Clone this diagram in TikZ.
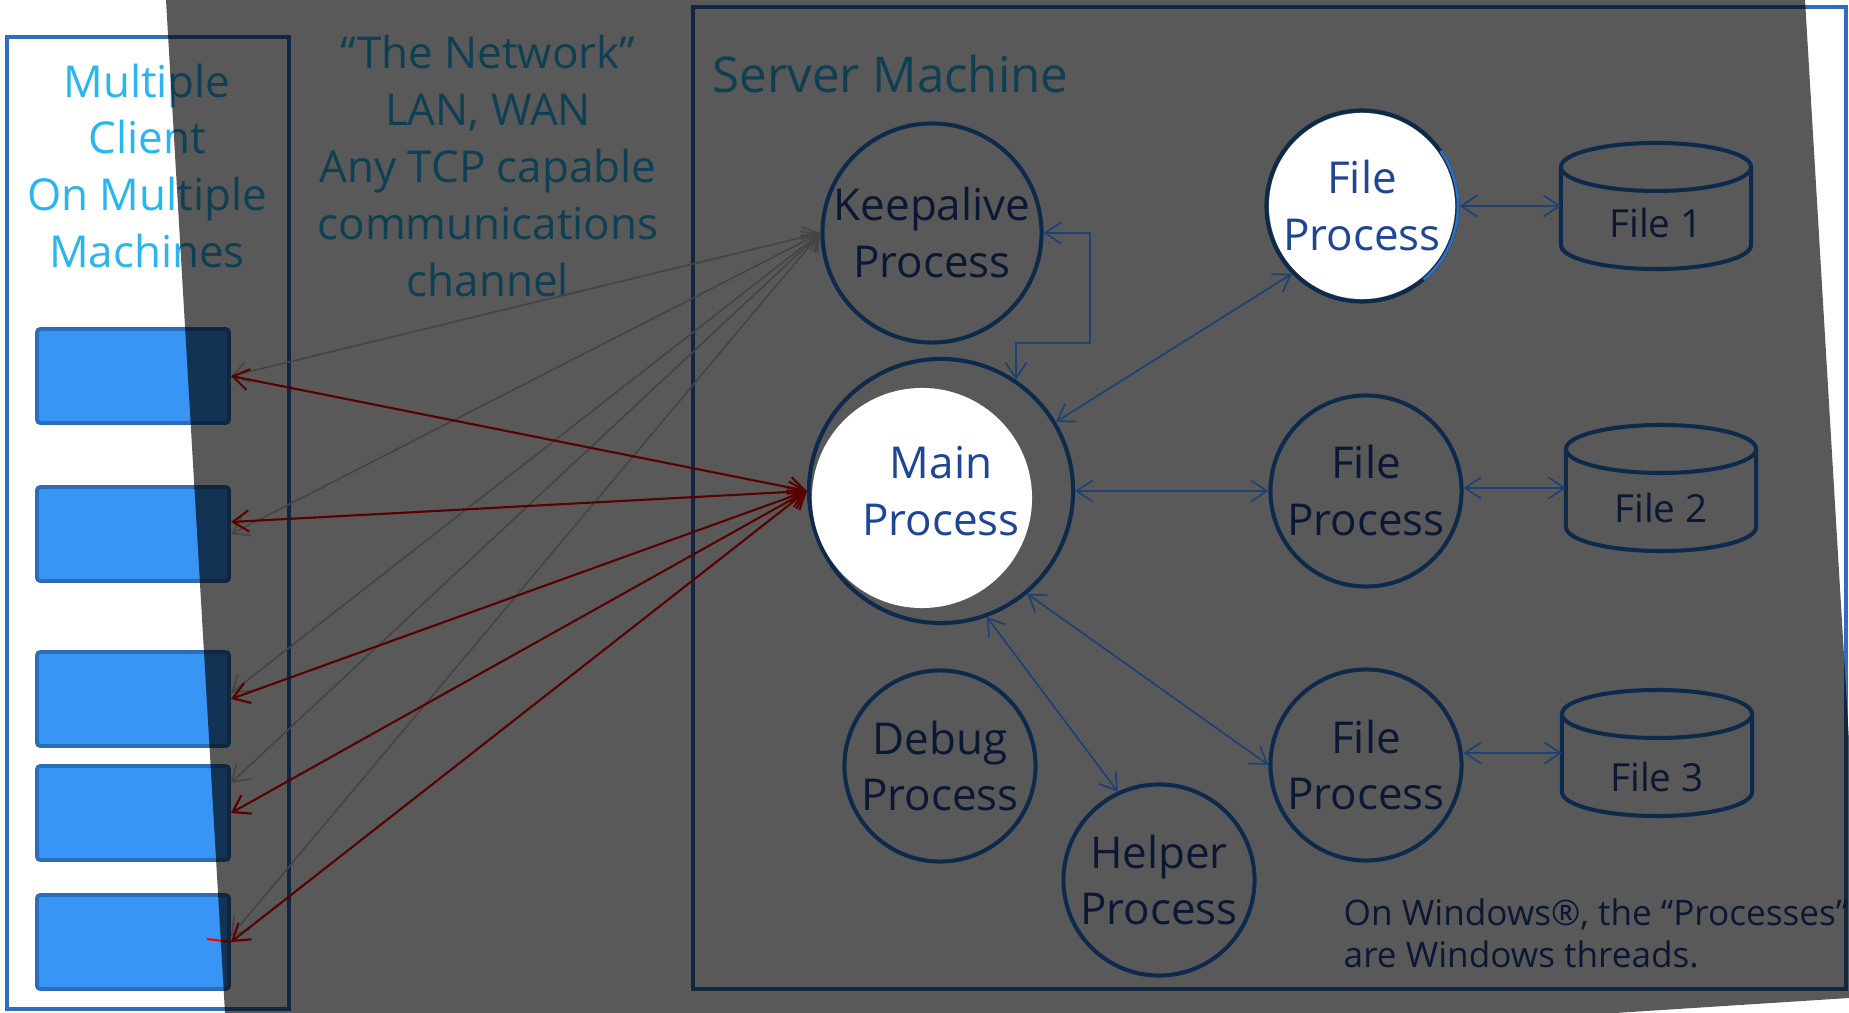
\documentclass[tikz,border=0pt]{standalone}
\usepackage{fontspec}
\setmainfont{Open Sans}
\usetikzlibrary{arrows.meta}

\definecolor{frameblue}{HTML}{2E6FBD}
\definecolor{boxblue}{HTML}{3894F5}
\definecolor{boxedge}{HTML}{2C6DB8}
\definecolor{clientcyan}{HTML}{29B6F0}
\definecolor{procline}{HTML}{2878D8}
\definecolor{proctext}{HTML}{1F4596}
\definecolor{linkblue}{HTML}{1E4273}
\definecolor{netgray}{HTML}{C4C4C4}

\begin{document}
\begin{tikzpicture}[x=0.01cm,y=-0.01cm,>={Straight Barb[length=4.5pt,width=6pt]},
  lbl/.style={font=\fontsize{12.5}{16.2}\selectfont,align=center},
  proc/.style={circle,draw=procline,line width=1.15pt,inner sep=0pt,minimum size=1.91cm,lbl,text=proctext},
  client/.style={draw=boxedge,fill=boxblue,line width=1.1pt,rounded corners=1pt,inner sep=0pt,minimum width=1.92cm,minimum height=0.94cm},
  disk/.style={rectangle,inner sep=0pt,outer sep=0pt,minimum width=1.9cm,minimum height=1.26cm},
  disklabel/.style={text=proctext,font=\fontsize{11}{13}\selectfont},
  net/.style={<->,line width=0.45pt,draw=netgray},
  netred/.style={<->,line width=0.6pt,draw=red},
  link/.style={<->,line width=0.5pt,draw=linkblue}]

\useasboundingbox (0,0) rectangle (1849,1013);
\fill[white] (0,0) rectangle (1849,1013);

\draw[frameblue,line width=1.15pt] (7,37) rectangle (289,1009);
\node[lbl,text=clientcyan] (clients) at (147,166) {Multiple\\Client\\On Multiple\\Machines};
\node[client] (b1) at (133,376) {};
\node[client] (b2) at (133,534) {};
\node[client] (b3) at (133,699) {};
\node[client] (b4) at (133,813) {};
\node[client] (b5) at (133,942) {};

\node[lbl,text=clientcyan] (network) at (488,166) {“The Network”\\LAN, WAN\\Any TCP capable\\communications\\channel};

\draw[frameblue,line width=1.3pt] (693,7) rectangle (1846,989);
\node[anchor=west,inner sep=0pt,text=clientcyan,font=\fontsize{14}{17}\selectfont] (server) at (712,74) {Server Machine};

\node[proc,minimum size=2.19cm] (keep) at (932,233) {Keepalive\\Process};
\node[proc,minimum size=2.64cm] (main) at (941,491) {};
\node[proc] (fp1) at (1362,206) {};
\node[proc] (fp2) at (1366,491) {File\\Process};
\node[proc] (fp3) at (1366,765) {File\\Process};
\node[proc] (debug) at (940,766) {Debug\\Process};
\node[proc] (helper) at (1159,880) {Helper\\Process};

% file cylinders
\node[disk] (f1) at (1656,206) {};
\node[disk] (f2) at (1661,488) {};
\node[disk] (f3) at (1657,753) {};
\foreach \f in {f1,f2,f3}
  \draw[procline,line width=1.15pt] ([yshift=-0.24cm]\f.north) ellipse[x radius=0.95cm,y radius=0.24cm]
    ([yshift=-0.24cm]\f.north west) -- ([yshift=0.24cm]\f.south west)
    arc[start angle=180,end angle=360,x radius=0.95cm,y radius=0.24cm] -- ([yshift=-0.24cm]\f.north east);
\node[disklabel] at ([yshift=-0.17cm]f1.center) {File 1};
\node[disklabel] at ([yshift=-0.2cm]f2.center) {File 2};
\node[disklabel] at ([yshift=-0.24cm]f3.center) {File 3};

\node[anchor=west,inner sep=0pt,align=left,text=proctext,font=\fontsize{10}{12}\selectfont] (note) at (1343,933) {On Windows®, the “Processes”\\are Windows threads.};

\draw[net] (keep.west) -- (b1.east);
\draw[net] (keep.west) -- (b2.east);
\draw[net] (keep.west) -- ([yshift=0.06cm]b3.east);
\draw[net] (keep.west) -- ([yshift=0.3cm]b4.east);
\draw[net] (keep.west) -- ([yshift=0.06cm]b5.east);
\draw[netred] (main.west) -- (b1.east);
\draw[netred] (main.west) -- ([yshift=0.12cm]b2.east);
\draw[netred] (main.west) -- (b3.east);
\draw[netred] (main.west) -- (b4.east);
\draw[netred] (main.west) -- (b5.east);
\draw[red,line width=0.6pt] (b5.east) -- ++(-24,-3);

\fill[black,opacity=0.65] (166,0) -- (1805,0) -- (1849,740) -- (1849,998) -- (1615,1013) -- (225,1013) -- cycle;

\fill[white] (922,498) circle[radius=1.1cm];
\node[lbl,text=proctext] at (main.center) {Main\\Process};
\fill[white] (fp1.center) circle[radius=0.93cm];
\draw[frameblue,line width=0.8pt] ([shift={(-50:0.96cm)}]fp1.center) arc[start angle=-50,end angle=35,radius=0.96cm];
\node[lbl,text=proctext] at (fp1.center) {File\\Process};

\draw[link] (keep.east) -| (1090,343) -| (main.56);
\draw[link] (main.31) -- (fp1.224);
\draw[link] (main) -- (fp2);
\draw[link] (main.-50) -- (fp3.west);
\draw[link] (main.-70) -- (helper.115);
\draw[link] (f1.west -| fp1.east) -- (f1.west);
\draw[link] (f2.west -| fp2.east) -- (f2.west);
\draw[link] (f3.west -| fp3.east) -- (f3.west);
\end{tikzpicture}
\end{document}
